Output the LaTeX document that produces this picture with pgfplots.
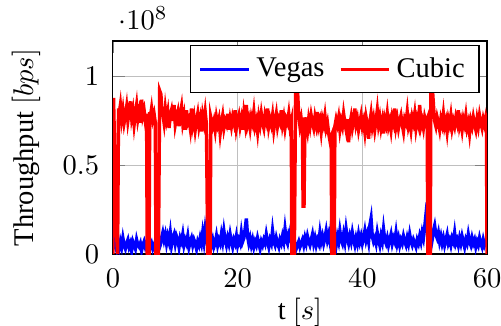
\documentclass[border=0pt]{standalone}
\usepackage{fontspec}
\setmainfont{Liberation Serif}
\usepackage{pgfplots}
\pgfplotsset{compat=1.18}
\begin{document}
\begin{tikzpicture}
\begin{axis}[
  name=ax,
  scale only axis,
  width=131.2pt, height=74.7pt,
  xmin=0, xmax=60, ymin=0, ymax=1.2,
  xtick={0,20,40,60},
  ytick={0,0.5,1},
  scaled y ticks=manual:{$\cdot 10^{8}$}{\pgfmathparse{#1}},
  every y tick scale label/.style={at={(rel axis cs:0,1)}, anchor=south west, inner sep=0pt, xshift=3pt, yshift=3.9pt},
  grid=major,
  xlabel={t $[s]$},
  xticklabel style={yshift=-1.6pt},
  yticklabel style={xshift=-1.3pt},
  xlabel style={yshift=3pt},
  ylabel={Throughput $[bps]$},
  ylabel shift=1pt,
  legend columns=-1,
  legend style={at={(0.98,0.98)},anchor=north east,
    /tikz/every even column/.append style={column sep=3pt}},
]
\addplot[blue, line width=1.2pt] coordinates {
(0,0.19) (0.2,0.12) (0.4,0.04) (0.6,0.02) (0.8,0.05) (1.0,0.03) (1.2,0.07) (1.4,0.04) (1.6,0.09) (1.8,0.05)
(2.0,0.03) (2.2,0.06) (2.4,0.08) (2.6,0.04) (2.8,0.06) (3.0,0.02) (3.2,0.07) (3.4,0.05) (3.6,0.03) (3.8,0.08)
(4.0,0.05) (4.2,0.04) (4.4,0.06) (4.6,0.02) (4.8,0.05) (5.0,0.07) (5.2,0.04) (5.4,0.06) (5.6,0.03) (5.8,0.05)
(6.0,0.04) (6.2,0.06) (6.4,0.03) (6.6,0.05) (6.8,0.07) (7.0,0.04) (7.2,0.06) (7.4,0.03) (7.6,0.05) (7.8,0.09)
(8.0,0.12) (8.2,0.08) (8.4,0.11) (8.6,0.06) (8.8,0.10) (9.0,0.07) (9.2,0.12) (9.4,0.05) (9.6,0.09) (9.8,0.11)
(10.0,0.06) (10.2,0.10) (10.4,0.08) (10.6,0.04) (10.8,0.09) (11.0,0.07) (11.2,0.11) (11.4,0.05) (11.6,0.08) (11.8,0.06)
(12.0,0.10) (12.2,0.04) (12.4,0.07) (12.6,0.09) (12.8,0.05) (13.0,0.08) (13.2,0.06) (13.4,0.03) (13.6,0.07) (13.8,0.05)
(14.0,0.09) (14.2,0.06) (14.4,0.12) (14.6,0.07) (14.8,0.14) (15.0,0.09) (15.2,0.05) (15.4,0.04) (15.6,0.07) (15.8,0.05)
(16.0,0.08) (16.2,0.04) (16.4,0.06) (16.6,0.10) (16.8,0.05) (17.0,0.08) (17.2,0.06) (17.4,0.11) (17.6,0.07) (17.8,0.13)
(18.0,0.08) (18.2,0.05) (18.4,0.09) (18.6,0.06) (18.8,0.11) (19.0,0.07) (19.2,0.04) (19.4,0.08) (19.6,0.06) (19.8,0.10)
(20.0,0.05) (20.2,0.08) (20.4,0.06) (20.6,0.12) (20.8,0.07) (21.0,0.09) (21.2,0.14) (21.4,0.20) (21.6,0.10) (21.8,0.06)
(22.0,0.09) (22.2,0.05) (22.4,0.08) (22.6,0.04) (22.8,0.07) (23.0,0.05) (23.2,0.09) (23.4,0.06) (23.6,0.03) (23.8,0.07)
(24.0,0.05) (24.2,0.08) (24.4,0.06) (24.6,0.11) (24.8,0.07) (25.0,0.04) (25.2,0.08) (25.4,0.06) (25.6,0.13) (25.8,0.07)
(26.0,0.05) (26.2,0.09) (26.4,0.06) (26.6,0.04) (26.8,0.08) (27.0,0.06) (27.2,0.10) (27.4,0.07) (27.6,0.14) (27.8,0.08)
(28.0,0.06) (28.2,0.11) (28.4,0.09) (28.6,0.16) (28.8,0.19) (29.0,0.10) (29.2,0.05) (29.4,0.03) (29.6,0.05) (29.8,0.07)
(30.0,0.04) (30.2,0.06) (30.4,0.08) (30.6,0.05) (30.8,0.09) (31.0,0.06) (31.2,0.10) (31.4,0.07) (31.6,0.05) (31.8,0.08)
(32.0,0.11) (32.2,0.06) (32.4,0.09) (32.6,0.05) (32.8,0.08) (33.0,0.06) (33.2,0.12) (33.4,0.07) (33.6,0.10) (33.8,0.06)
(34.0,0.09) (34.2,0.13) (34.4,0.08) (34.6,0.11) (34.8,0.07) (35.0,0.15) (35.2,0.09) (35.4,0.06) (35.6,0.08) (35.8,0.05)
(36.0,0.10) (36.2,0.07) (36.4,0.13) (36.6,0.08) (36.8,0.06) (37.0,0.11) (37.2,0.07) (37.4,0.14) (37.6,0.09) (37.8,0.06)
(38.0,0.10) (38.2,0.07) (38.4,0.12) (38.6,0.08) (38.8,0.05) (39.0,0.09) (39.2,0.06) (39.4,0.11) (39.6,0.07) (39.8,0.10)
(40.0,0.06) (40.2,0.09) (40.4,0.13) (40.6,0.08) (40.8,0.11) (41.0,0.07) (41.2,0.16) (41.4,0.20) (41.6,0.10) (41.8,0.07)
(42.0,0.09) (42.2,0.06) (42.4,0.12) (42.6,0.08) (42.8,0.05) (43.0,0.10) (43.2,0.07) (43.4,0.14) (43.6,0.08) (43.8,0.06)
(44.0,0.09) (44.2,0.05) (44.4,0.08) (44.6,0.11) (44.8,0.06) (45.0,0.09) (45.2,0.07) (45.4,0.12) (45.6,0.06) (45.8,0.09)
(46.0,0.05) (46.2,0.08) (46.4,0.06) (46.6,0.10) (46.8,0.07) (47.0,0.05) (47.2,0.09) (47.4,0.06) (47.6,0.11) (47.8,0.07)
(48.0,0.05) (48.2,0.08) (48.4,0.06) (48.6,0.04) (48.8,0.08) (49.0,0.06) (49.2,0.10) (49.4,0.07) (49.6,0.12) (49.8,0.09)
(50.0,0.15) (50.2,0.22) (50.4,0.29) (50.6,0.12) (50.8,0.06) (51.0,0.04) (51.2,0.08) (51.4,0.13) (51.6,0.16) (51.8,0.11)
(52.0,0.09) (52.2,0.12) (52.4,0.07) (52.6,0.10) (52.8,0.06) (53.0,0.09) (53.2,0.05) (53.4,0.08) (53.6,0.11) (53.8,0.06)
(54.0,0.08) (54.2,0.05) (54.4,0.09) (54.6,0.07) (54.8,0.12) (55.0,0.06) (55.2,0.08) (55.4,0.05) (55.6,0.09) (55.8,0.06)
(56.0,0.10) (56.2,0.07) (56.4,0.04) (56.6,0.08) (56.8,0.06) (57.0,0.11) (57.2,0.07) (57.4,0.05) (57.6,0.09) (57.8,0.06)
(58.0,0.08) (58.2,0.04) (58.4,0.07) (58.6,0.05) (58.8,0.09) (59.0,0.06) (59.2,0.04) (59.4,0.08) (59.6,0.05) (59.8,0.07)
(60.0,0.06)
};
\addlegendentry{Vegas}
\addplot[red, line width=1.2pt] coordinates {
(0,0) (0.1,0.88) (0.3,0.55) (0.6,0.1) (0.75,0) (0.9,0.82)
(1.0,0.79) (1.2,0.84) (1.4,0.76) (1.6,0.81) (1.8,0.74)
(2.0,0.78) (2.2,0.83) (2.4,0.75) (2.6,0.80) (2.8,0.86)
(3.0,0.77) (3.2,0.81) (3.4,0.73) (3.6,0.79) (3.8,0.84)
(4.0,0.76) (4.2,0.80) (4.4,0.74) (4.6,0.87) (4.8,0.78)
(5.0,0.81) (5.2,0.75) (5.4,0.79) (5.5,0) (5.8,0) (5.9,0.80)
(6.0,0.77) (6.2,0.82) (6.4,0.76) (6.6,0.79) (6.8,0.74) (6.9,0) (7.3,0) (7.5,0.92) (7.7,0.90) (7.8,0.83)
(8.0,0.79) (8.2,0.74) (8.4,0.82) (8.6,0.76) (8.8,0.80) (9.0,0.71) (9.2,0.78) (9.4,0.81) (9.6,0.75) (9.8,0.84)
(10.0,0.73) (10.2,0.77) (10.4,0.80) (10.6,0.72) (10.8,0.79) (11.0,0.83) (11.2,0.74) (11.4,0.78) (11.6,0.70) (11.8,0.81)
(12.0,0.74) (12.2,0.76) (12.4,0.71) (12.6,0.82) (12.8,0.73) (13.0,0.77) (13.2,0.70) (13.4,0.75) (13.6,0.79) (13.8,0.72)
(14.0,0.76) (14.2,0.69) (14.4,0.78) (14.6,0.74) (14.8,0.80) (15.0,0.73) (15.2,0) (15.6,0) (15.7,0.77)
(16.0,0.72) (16.2,0.75) (16.4,0.70) (16.6,0.77) (16.8,0.73) (17.0,0.76) (17.2,0.68) (17.4,0.74) (17.6,0.78) (17.8,0.71)
(18.0,0.75) (18.2,0.73) (18.4,0.79) (18.6,0.70) (18.8,0.76) (19.0,0.72) (19.2,0.77) (19.4,0.74) (19.6,0.81) (19.8,0.71)
(20.0,0.75) (20.2,0.78) (20.4,0.72) (20.6,0.76) (20.8,0.70) (21.0,0.79) (21.2,0.74) (21.4,0.84) (21.6,0.73) (21.8,0.76)
(22.0,0.71) (22.2,0.77) (22.4,0.74) (22.6,0.80) (22.8,0.72) (23.0,0.75) (23.2,0.69) (23.4,0.77) (23.6,0.73) (23.8,0.79)
(24.0,0.74) (24.2,0.71) (24.4,0.78) (24.6,0.75) (24.8,0.82) (25.0,0.72) (25.2,0.76) (25.4,0.73) (25.6,0.78) (25.8,0.70)
(26.0,0.75) (26.2,0.79) (26.4,0.72) (26.6,0.76) (26.8,0.74) (27.0,0.81) (27.2,0.73) (27.4,0.77) (27.6,0.71) (27.8,0.76)
(28.0,0.74) (28.2,0.79) (28.4,0.72) (28.6,0.75) (28.7,0) (29.1,0) (29.3,0.95) (29.6,0.93) (29.8,0.78)
(30.0,0.72) (30.2,0.76) (30.4,0.70) (30.5,0.27) (30.65,0.27) (30.8,0.77)
(31.0,0.73) (31.2,0.69) (31.4,0.76) (31.6,0.72) (31.8,0.78) (32.0,0.74) (32.2,0.71) (32.4,0.77) (32.6,0.73) (32.8,0.80)
(33.0,0.72) (33.2,0.75) (33.4,0.69) (33.6,0.76) (33.8,0.73) (34.0,0.78) (34.2,0.71) (34.4,0.74) (34.6,0.68) (34.8,0.64)
(35.0,0.66) (35.1,0) (35.5,0) (35.6,0.72) (35.8,0.76)
(36.0,0.73) (36.2,0.77) (36.4,0.70) (36.6,0.75) (36.8,0.72) (37.0,0.79) (37.2,0.74) (37.4,0.70) (37.6,0.76) (37.8,0.63)
(38.0,0.73) (38.2,0.77) (38.4,0.71) (38.6,0.75) (38.8,0.82) (39.0,0.73) (39.2,0.76) (39.4,0.70) (39.6,0.74) (39.8,0.78)
(40.0,0.72) (40.2,0.75) (40.4,0.69) (40.6,0.77) (40.8,0.73) (41.0,0.65) (41.2,0.74) (41.4,0.79) (41.6,0.72) (41.8,0.76)
(42.0,0.70) (42.2,0.75) (42.4,0.81) (42.6,0.73) (42.8,0.77) (43.0,0.71) (43.2,0.75) (43.4,0.68) (43.6,0.76) (43.8,0.73)
(44.0,0.79) (44.2,0.72) (44.4,0.75) (44.6,0.70) (44.8,0.77) (45.0,0.74) (45.2,0.82) (45.4,0.72) (45.6,0.76) (45.8,0.71)
(46.0,0.75) (46.2,0.78) (46.4,0.73) (46.6,0.69) (46.8,0.76) (47.0,0.74) (47.2,0.80) (47.4,0.72) (47.6,0.75) (47.8,0.70)
(48.0,0.77) (48.2,0.74) (48.4,0.79) (48.6,0.71) (48.8,0.76) (49.0,0.73) (49.2,0.84) (49.4,0.72) (49.6,0.75) (49.8,0.71)
(50.0,0.77) (50.2,0.74) (50.4,0.76) (50.5,0) (50.9,0) (51.0,0.95) (51.3,0.90) (51.5,0.79)
(51.6,0.75) (51.8,0.72) (52.0,0.77) (52.2,0.74) (52.4,0.70) (52.6,0.76) (52.8,0.73) (53.0,0.79) (53.2,0.72) (53.4,0.75)
(53.6,0.69) (53.8,0.76) (54.0,0.73) (54.2,0.78) (54.4,0.71) (54.6,0.75) (54.8,0.72) (55.0,0.77) (55.2,0.74) (55.4,0.81)
(55.6,0.72) (55.8,0.75) (56.0,0.70) (56.2,0.76) (56.4,0.73) (56.6,0.78) (56.8,0.71) (57.0,0.74) (57.2,0.68) (57.4,0.75)
(57.6,0.72) (57.8,0.77) (58.0,0.73) (58.2,0.70) (58.4,0.76) (58.6,0.72) (58.8,0.78) (59.0,0.74) (59.2,0.71) (59.4,0.76)
(59.6,0.73) (59.8,0.77) (59.9,0.75) (60,0)
};
\addlegendentry{Cubic}
\end{axis}
\pgfresetboundingbox
\path[use as bounding box] ([xshift=-39.6pt,yshift=-24.9pt]ax.south west) rectangle ([xshift=4.9pt,yshift=14.4pt]ax.north east);
\end{tikzpicture}
\end{document}
